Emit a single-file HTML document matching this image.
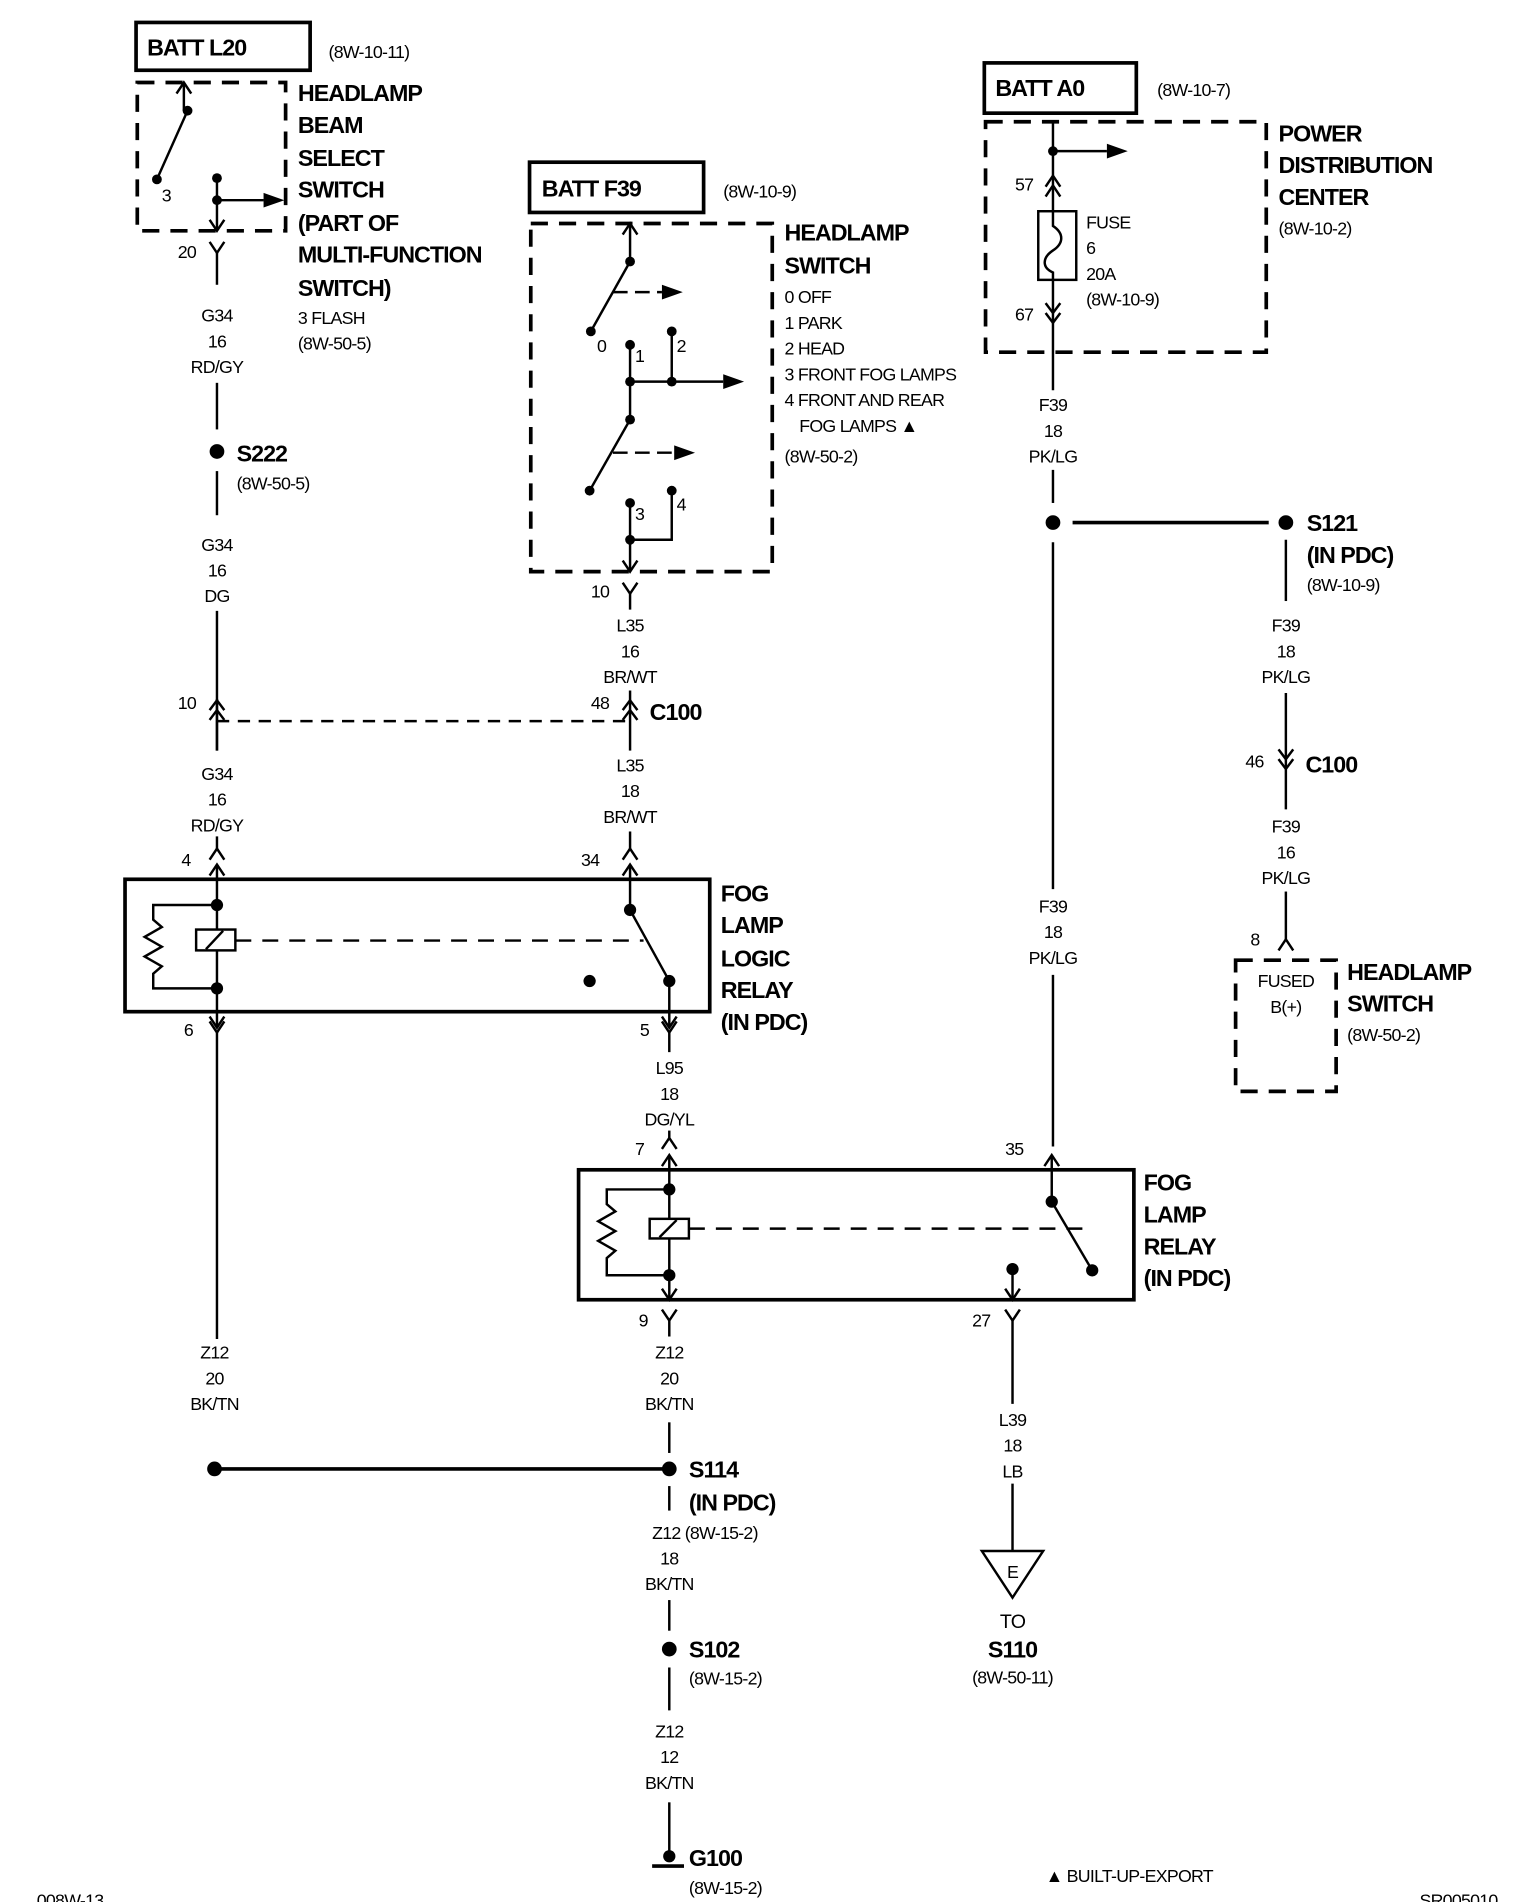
<!DOCTYPE html>
<html><head><meta charset="utf-8"><style>
html,body{margin:0;padding:0;background:#fff;}
svg{display:block;}
text{font-family:"Liberation Sans",sans-serif;fill:#000;}
.b{font-weight:bold;font-size:19px;letter-spacing:-0.8px;}
.s{font-size:14.5px;letter-spacing:-0.6px;}
.c{text-anchor:middle;}
</style></head><body>
<svg width="1520" height="1902" viewBox="0 0 1240 1551" xmlns="http://www.w3.org/2000/svg">
<g fill="none" stroke="#000" stroke-width="2">
<!-- BATT L20 -->
<rect x="111" y="18" width="142" height="39" stroke-width="3"/>
<rect x="112" y="67" width="121" height="121" stroke-width="3" stroke-dasharray="14,9"/>
<line x1="150" y1="67" x2="150" y2="90"/><path d="M144,76 L150,67 L156,76"/>
<line x1="153" y1="90" x2="128" y2="146"/>
<line x1="177" y1="145" x2="177" y2="188"/><path d="M171,179 L177,188 L183,179"/>
<line x1="177" y1="163" x2="215" y2="163"/>
<path d="M171,197 L177,206 L183,197"/><line x1="177" y1="206" x2="177" y2="232"/>
<line x1="177" y1="312" x2="177" y2="350"/>
<line x1="177" y1="384" x2="177" y2="420"/>
<line x1="177" y1="498" x2="177" y2="612"/>
<line x1="177" y1="570" x2="177" y2="612"/>
<path d="M171,579 L177,571 L183,579 M171,587 L177,579 L183,587"/>
<line x1="177" y1="588" x2="514" y2="588" stroke-dasharray="10,7"/>
<line x1="177" y1="682" x2="177" y2="692"/>
<path d="M171,701 L177,692 L183,701"/>
<!-- logic relay -->
<rect x="102" y="717" width="477" height="108" stroke-width="3"/>
<line x1="177" y1="705" x2="177" y2="838"/>
<path d="M171,714 L177,705 L183,714"/>
<path d="M171,829 L177,838 L183,829"/>
<path d="M177,738 L125,738 L125,750 L132,756 L118,764 L132,772 L118,780 L132,788 L125,794 L125,806 L177,806"/>
<rect x="160" y="758" width="32" height="17" fill="#fff"/>
<line x1="168" y1="774" x2="182" y2="759"/>
<line x1="192" y1="767" x2="525" y2="767" stroke-dasharray="13,9"/>
<line x1="514" y1="705" x2="514" y2="742"/>
<path d="M508,714 L514,705 L520,714"/>
<line x1="514" y1="742" x2="546" y2="800"/>
<line x1="546" y1="800" x2="546" y2="838"/>
<path d="M540,829 L546,838 L552,829"/>
<path d="M171,833 L177,842 L183,833"/><line x1="177" y1="842" x2="177" y2="1092"/>
<path d="M540,833 L546,842 L552,833"/><line x1="546" y1="842" x2="546" y2="858"/>
<line x1="546" y1="922" x2="546" y2="928"/>
<path d="M540,937 L546,928 L552,937"/>
<!-- fog lamp relay -->
<rect x="472" y="954" width="453" height="106" stroke-width="3"/>
<line x1="546" y1="942" x2="546" y2="1060"/>
<path d="M540,951 L546,942 L552,951"/>
<path d="M540,1051 L546,1060 L552,1051"/>
<path d="M546,970 L495,970 L495,982 L502,988 L488,996 L502,1004 L488,1012 L502,1020 L495,1026 L495,1040 L546,1040"/>
<rect x="530" y="994" width="32" height="16" fill="#fff"/>
<line x1="538" y1="1009" x2="552" y2="995"/>
<line x1="562" y1="1002" x2="885" y2="1002" stroke-dasharray="13,9"/>
<line x1="858" y1="942" x2="858" y2="980"/>
<path d="M852,951 L858,942 L864,951"/>
<line x1="858" y1="980" x2="891" y2="1036"/>
<line x1="826" y1="1035" x2="826" y2="1060"/>
<path d="M820,1051 L826,1060 L832,1051"/>
<path d="M540,1068 L546,1077 L552,1068"/><line x1="546" y1="1077" x2="546" y2="1090"/>
<path d="M820,1068 L826,1077 L832,1068"/><line x1="826" y1="1077" x2="826" y2="1145"/>
<line x1="546" y1="1160" x2="546" y2="1185"/>
<line x1="175" y1="1198" x2="546" y2="1198" stroke-width="3"/>
<line x1="546" y1="1212" x2="546" y2="1232"/>
<line x1="546" y1="1305" x2="546" y2="1330"/>
<line x1="546" y1="1360" x2="546" y2="1395"/>
<line x1="546" y1="1470" x2="546" y2="1514"/>
<line x1="532" y1="1522" x2="558" y2="1522" stroke-width="3"/>
<line x1="826" y1="1210" x2="826" y2="1265"/>
<path d="M801,1265 L851,1265 L826,1303 Z"/>
<!-- headlamp switch -->
<rect x="432" y="132" width="142" height="41" stroke-width="3"/>
<rect x="433" y="182" width="197" height="284" stroke-width="3" stroke-dasharray="14,9"/>
<line x1="514" y1="182" x2="514" y2="213"/><path d="M508,191 L514,182 L520,191"/>
<line x1="514" y1="213" x2="482" y2="270"/>
<line x1="500" y1="238" x2="540" y2="238" stroke-dasharray="12,6"/>
<line x1="514" y1="281" x2="514" y2="342"/>
<line x1="548" y1="270" x2="548" y2="311"/>
<line x1="514" y1="311" x2="590" y2="311"/>
<line x1="514" y1="342" x2="481" y2="400"/>
<line x1="500" y1="369" x2="550" y2="369" stroke-dasharray="12,6"/>
<line x1="514" y1="410" x2="514" y2="466"/>
<path d="M548,400 L548,440 L514,440"/>
<path d="M508,457 L514,466 L520,457"/>
<path d="M508,475 L514,484 L520,475"/><line x1="514" y1="484" x2="514" y2="497"/>
<line x1="514" y1="563" x2="514" y2="612"/>
<path d="M508,579 L514,571 L520,579 M508,587 L514,579 L520,587"/>
<line x1="514" y1="678" x2="514" y2="692"/>
<path d="M508,701 L514,692 L520,701"/>
<!-- PDC -->
<rect x="803" y="51" width="124" height="41" stroke-width="3"/>
<rect x="804" y="99" width="229" height="188" stroke-width="3" stroke-dasharray="14,9"/>
<line x1="859" y1="99" x2="859" y2="318"/>
<line x1="859" y1="123" x2="903" y2="123"/>
<path d="M853,152 L859,143 L865,152 M853,160 L859,151 L865,160"/>
<rect x="847" y="172" width="31" height="56" fill="#fff"/>
<path d="M859,172 L859,184 C868,190 868,198 859,204 C850,210 850,218 859,222 L859,228"/>
<path d="M853,247 L859,255 L865,247 M853,255 L859,263 L865,255"/>
<line x1="859" y1="383" x2="859" y2="410"/>
<line x1="859" y1="442" x2="859" y2="725"/>
<line x1="859" y1="795" x2="859" y2="935"/>
<line x1="875" y1="426" x2="1035" y2="426" stroke-width="3"/>
<line x1="1049" y1="440" x2="1049" y2="490"/>
<line x1="1049" y1="565" x2="1049" y2="660"/>
<path d="M1043,611 L1049,619 L1055,611 M1043,619 L1049,627 L1055,619"/>
<line x1="1049" y1="727" x2="1049" y2="766"/>
<path d="M1043,775 L1049,766 L1055,775"/>
<rect x="1008" y="783" width="82" height="107" stroke-width="3" stroke-dasharray="14,9"/>
</g>
<g fill="#000">
<circle cx="153" cy="90" r="4"/><circle cx="128" cy="146" r="4"/><circle cx="177" cy="145" r="4"/><circle cx="177" cy="163" r="4"/>
<path d="M215,157 L232,163 L215,169Z"/>
<circle cx="177" cy="368" r="6"/>
<circle cx="177" cy="738" r="5"/><circle cx="177" cy="806" r="5"/><circle cx="514" cy="742" r="5"/><circle cx="546" cy="800" r="5"/><circle cx="481" cy="800" r="5"/>
<circle cx="546" cy="970" r="5"/><circle cx="546" cy="1040" r="5"/><circle cx="858" cy="980" r="5"/><circle cx="891" cy="1036" r="5"/><circle cx="826" cy="1035" r="5"/>
<circle cx="175" cy="1198" r="6"/><circle cx="546" cy="1198" r="6"/><circle cx="546" cy="1345" r="6"/><circle cx="546" cy="1514" r="5"/>
<circle cx="514" cy="213" r="4"/><circle cx="482" cy="270" r="4"/><circle cx="514" cy="281" r="4"/><circle cx="548" cy="270" r="4"/><circle cx="514" cy="311" r="4"/><circle cx="548" cy="311" r="4"/><circle cx="514" cy="342" r="4"/><circle cx="481" cy="400" r="4"/><circle cx="514" cy="410" r="4"/><circle cx="548" cy="400" r="4"/><circle cx="514" cy="440" r="4"/>
<path d="M540,232 L557,238 L540,244Z"/><path d="M590,305 L607,311 L590,317Z"/><path d="M550,363 L567,369 L550,375Z"/>
<circle cx="859" cy="123" r="4"/><path d="M903,117 L920,123 L903,129Z"/>
<circle cx="859" cy="426" r="6"/><circle cx="1049" cy="426" r="6"/>
</g>
<g>
<text x="120" y="45" class="b">BATT L20</text>
<text x="268" y="47" class="s">(8W-10-11)</text>
<text x="243" y="82" class="b">HEADLAMP</text>
<text x="243" y="108" class="b">BEAM</text>
<text x="243" y="135" class="b">SELECT</text>
<text x="243" y="161" class="b">SWITCH</text>
<text x="243" y="188" class="b">(PART OF</text>
<text x="243" y="214" class="b">MULTI-FUNCTION</text>
<text x="243" y="241" class="b">SWITCH)</text>
<text x="243" y="264" class="s">3 FLASH</text>
<text x="243" y="285" class="s">(8W-50-5)</text>
<text x="132" y="164" class="s">3</text>
<text x="145" y="210" class="s">20</text>
<text x="177" y="262" class="s c">G34</text><text x="177" y="283" class="s c">16</text><text x="177" y="304" class="s c">RD/GY</text>
<text x="193" y="376" class="b">S222</text><text x="193" y="399" class="s">(8W-50-5)</text>
<text x="177" y="449" class="s c">G34</text><text x="177" y="470" class="s c">16</text><text x="177" y="491" class="s c">DG</text>
<text x="145" y="578" class="s">10</text>
<text x="177" y="636" class="s c">G34</text><text x="177" y="657" class="s c">16</text><text x="177" y="678" class="s c">RD/GY</text>
<text x="148" y="706" class="s">4</text>
<text x="588" y="735" class="b">FOG</text><text x="588" y="761" class="b">LAMP</text><text x="588" y="788" class="b">LOGIC</text><text x="588" y="814" class="b">RELAY</text><text x="588" y="840" class="b">(IN PDC)</text>
<text x="150" y="845" class="s">6</text><text x="522" y="845" class="s">5</text>
<text x="546" y="876" class="s c">L95</text><text x="546" y="897" class="s c">18</text><text x="546" y="918" class="s c">DG/YL</text>
<text x="518" y="942" class="s">7</text><text x="820" y="942" class="s">35</text>
<text x="933" y="971" class="b">FOG</text><text x="933" y="997" class="b">LAMP</text><text x="933" y="1023" class="b">RELAY</text><text x="933" y="1049" class="b">(IN PDC)</text>
<text x="521" y="1082" class="s">9</text><text x="793" y="1082" class="s">27</text>
<text x="175" y="1108" class="s c">Z12</text><text x="175" y="1129" class="s c">20</text><text x="175" y="1150" class="s c">BK/TN</text>
<text x="546" y="1108" class="s c">Z12</text><text x="546" y="1129" class="s c">20</text><text x="546" y="1150" class="s c">BK/TN</text>
<text x="562" y="1205" class="b">S114</text><text x="562" y="1232" class="b">(IN PDC)</text>
<text x="532" y="1255" class="s">Z12 (8W-15-2)</text><text x="546" y="1276" class="s c">18</text><text x="546" y="1297" class="s c">BK/TN</text>
<text x="562" y="1352" class="b">S102</text><text x="562" y="1374" class="s">(8W-15-2)</text>
<text x="546" y="1417" class="s c">Z12</text><text x="546" y="1438" class="s c">12</text><text x="546" y="1459" class="s c">BK/TN</text>
<text x="562" y="1522" class="b">G100</text><text x="562" y="1545" class="s">(8W-15-2)</text>
<text x="826" y="1163" class="s c">L39</text><text x="826" y="1184" class="s c">18</text><text x="826" y="1205" class="s c">LB</text>
<text x="826" y="1287" class="s c">E</text>
<text x="826" y="1328" class="s c" style="font-size:16px">TO</text>
<text x="826" y="1352" class="b c">S110</text><text x="826" y="1373" class="s c">(8W-50-11)</text>
<text x="442" y="160" class="b">BATT F39</text><text x="590" y="161" class="s">(8W-10-9)</text>
<text x="640" y="196" class="b">HEADLAMP</text><text x="640" y="223" class="b">SWITCH</text>
<text x="640" y="247" class="s">0 OFF</text><text x="640" y="268" class="s">1 PARK</text><text x="640" y="289" class="s">2 HEAD</text>
<text x="640" y="310" class="s">3 FRONT FOG LAMPS</text><text x="640" y="331" class="s">4 FRONT AND REAR</text>
<text x="652" y="352" class="s">FOG LAMPS ▲</text><text x="640" y="377" class="s">(8W-50-2)</text>
<text x="487" y="287" class="s">0</text><text x="518" y="295" class="s">1</text><text x="552" y="287" class="s">2</text>
<text x="518" y="424" class="s">3</text><text x="552" y="416" class="s">4</text>
<text x="482" y="487" class="s">10</text>
<text x="514" y="515" class="s c">L35</text><text x="514" y="536" class="s c">16</text><text x="514" y="557" class="s c">BR/WT</text>
<text x="482" y="578" class="s">48</text><text x="530" y="587" class="b">C100</text>
<text x="514" y="629" class="s c">L35</text><text x="514" y="650" class="s c">18</text><text x="514" y="671" class="s c">BR/WT</text>
<text x="474" y="706" class="s">34</text>
<text x="812" y="78" class="b">BATT A0</text><text x="944" y="78" class="s">(8W-10-7)</text>
<text x="1043" y="115" class="b">POWER</text><text x="1043" y="141" class="b">DISTRIBUTION</text><text x="1043" y="167" class="b">CENTER</text><text x="1043" y="191" class="s">(8W-10-2)</text>
<text x="828" y="155" class="s">57</text><text x="828" y="261" class="s">67</text>
<text x="886" y="186" class="s">FUSE</text><text x="886" y="207" class="s">6</text><text x="886" y="228" class="s">20A</text><text x="886" y="249" class="s">(8W-10-9)</text>
<text x="859" y="335" class="s c">F39</text><text x="859" y="356" class="s c">18</text><text x="859" y="377" class="s c">PK/LG</text>
<text x="1066" y="433" class="b">S121</text><text x="1066" y="459" class="b">(IN PDC)</text><text x="1066" y="482" class="s">(8W-10-9)</text>
<text x="1049" y="515" class="s c">F39</text><text x="1049" y="536" class="s c">18</text><text x="1049" y="557" class="s c">PK/LG</text>
<text x="1016" y="626" class="s">46</text><text x="1065" y="630" class="b">C100</text>
<text x="1049" y="679" class="s c">F39</text><text x="1049" y="700" class="s c">16</text><text x="1049" y="721" class="s c">PK/LG</text>
<text x="1020" y="771" class="s">8</text>
<text x="1049" y="805" class="s c">FUSED</text><text x="1049" y="826" class="s c">B(+)</text>
<text x="1099" y="799" class="b">HEADLAMP</text><text x="1099" y="825" class="b">SWITCH</text><text x="1099" y="849" class="s">(8W-50-2)</text>
<text x="859" y="744" class="s c">F39</text><text x="859" y="765" class="s c">18</text><text x="859" y="786" class="s c">PK/LG</text>
<text x="30" y="1555" class="s">008W-13</text>
<text x="853" y="1535" class="s">▲ BUILT-UP-EXPORT</text>
<text x="1158" y="1555" class="s">SR005010</text>
</g>
</svg>
</body></html>
